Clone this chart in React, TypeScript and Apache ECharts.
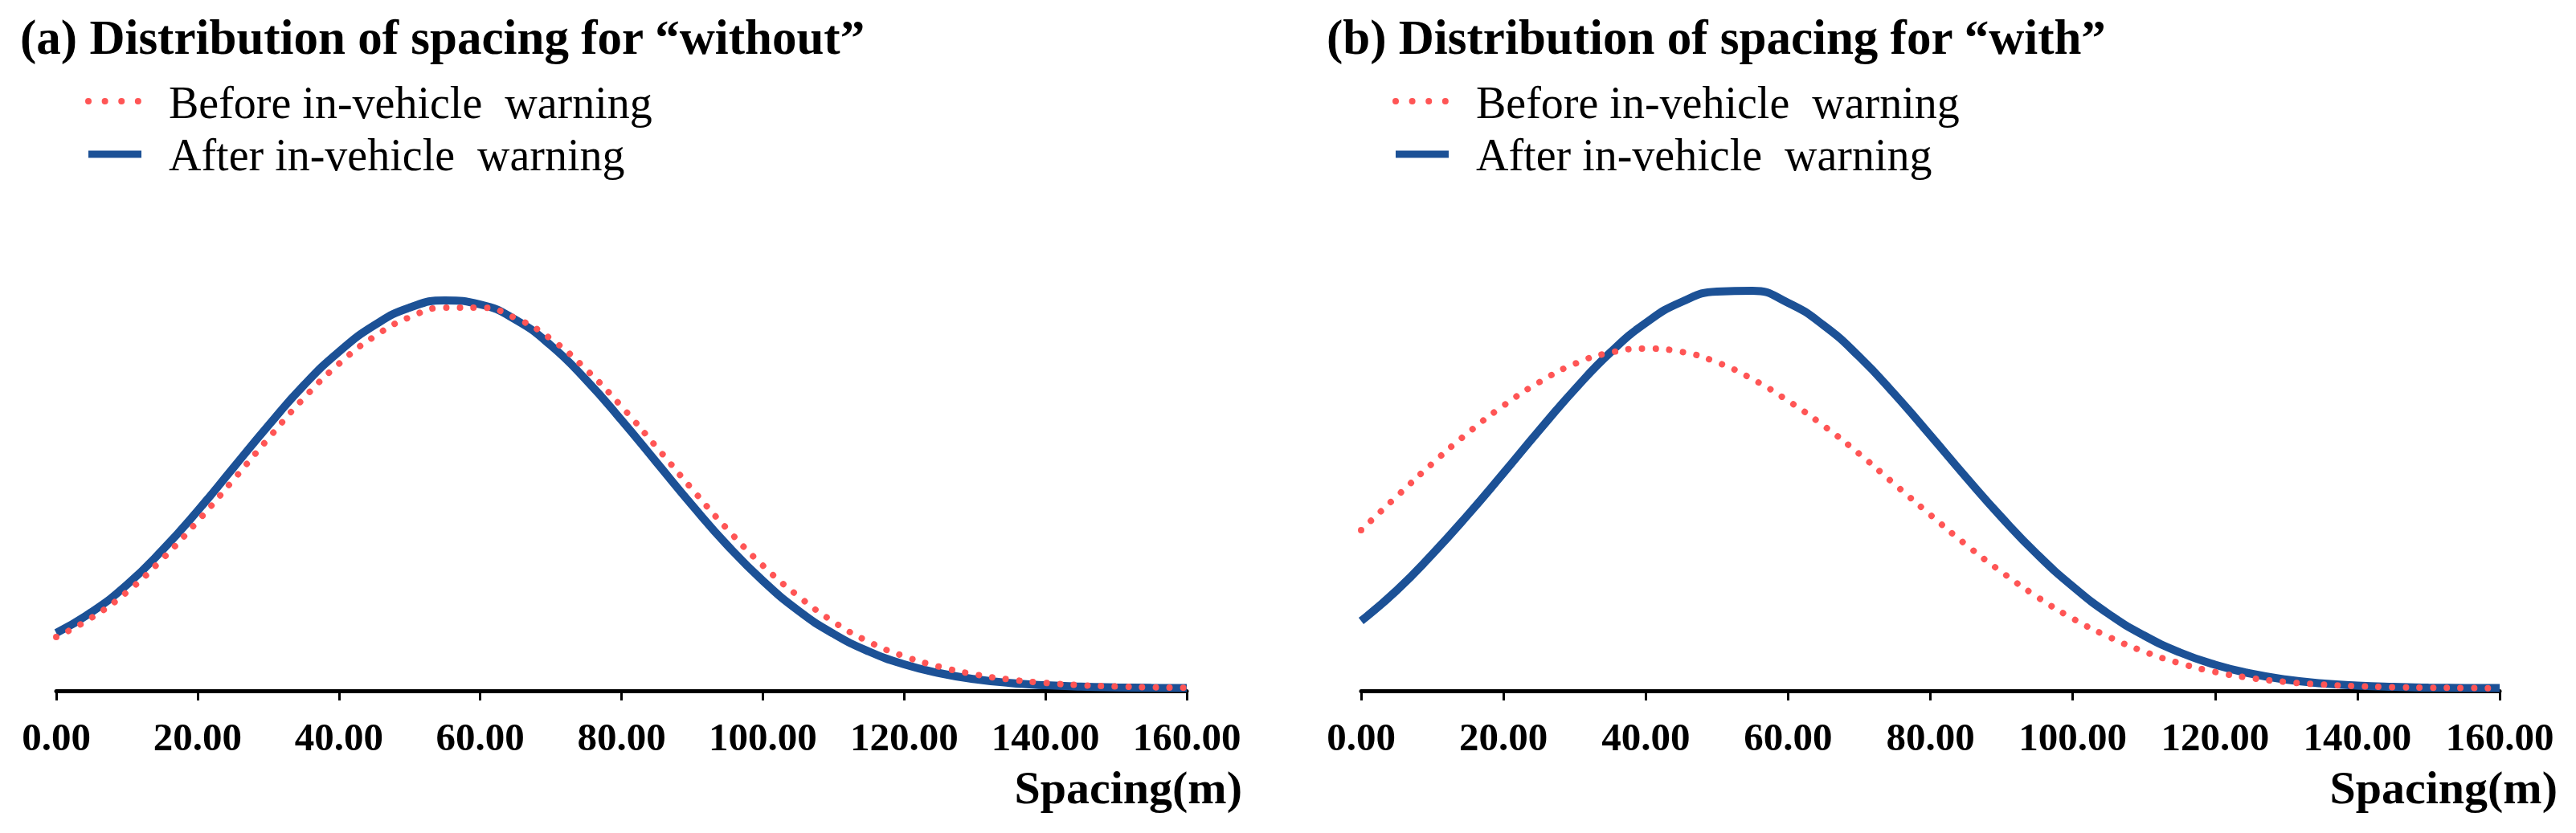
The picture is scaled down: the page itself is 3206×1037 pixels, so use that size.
import React, { useEffect, useRef } from "react";
import * as echarts from "echarts";

// Spacing (m) sample positions and x-axis tick values
const spacing = [0, 5, 10, 15, 20, 25, 30, 35, 40, 45, 50, 55, 60, 65, 70, 75, 80, 85, 90, 95, 100, 105, 110, 115, 120, 125, 130, 135, 140, 145, 150, 155, 160];
const tickValues = [0, 20, 40, 60, 80, 100, 120, 140, 160];

// Relative frequency (arbitrary units)
// (a) "without"
const withoutBefore = [64, 88, 120, 161, 208, 259, 311, 361, 404, 438, 462, 474, 474, 461, 435, 397, 351, 300, 248, 198, 153, 115, 83, 58, 40, 27, 17.5, 11, 6.8, 4, 2.4, 1.4, 0.8];
const withoutAfter = [69, 95, 129, 172, 221, 274, 327, 377, 419, 452, 474, 483, 478, 459, 427, 384, 334, 281, 228, 178, 134, 97, 68, 46, 30, 19, 11.5, 6.8, 3.9, 2.2, 1.3, 0.8, 0.5];
// (b) "with"
const withBefore = [197, 239, 280, 318, 352, 381, 404, 418, 423, 419, 406, 385, 358, 327, 292, 254, 216, 179, 145, 114, 87, 64.5, 46, 31.5, 20.5, 13, 8, 4.8, 2.8, 1.6, 0.9, 0.5, 0.3];
const withAfter = [84, 122, 167, 216, 268, 321, 372, 418, 455, 481, 494, 495, 480, 452, 413, 366, 315, 263, 213, 167, 127, 93, 66, 45, 29.5, 18.5, 11, 6.3, 3.5, 1.9, 1, 0.6, 0.4];

const titles = ["(a) Distribution of spacing for \u201cwithout\u201d", "(b) Distribution of spacing for \u201cwith\u201d"];
const seriesNames = ["Before in-vehicle warning", "After in-vehicle warning"];
const axisName = "Spacing(m)";

const FONT = "'Liberation Serif', 'Times New Roman', Times, serif";
const BLUE = "#1C5196";
const RED = "#FF5555";

export default function App() {
  const ref = useRef<HTMLDivElement>(null);

  useEffect(() => {
    if (!ref.current) return;
    const chart = echarts.init(ref.current, null, { renderer: "svg" });
    const pairs = (ys: number[]) => spacing.map((x, i) => [x, ys[i]]);
    const legendLabel = (name: string) => name.replace(" warning", "\u00a0 warning");

    const panels = [
      { gridLeft: 70, gridWidth: 1407, titleLeft: 25, legendLeft: 110, nameRight: 1546, before: withoutBefore, after: withoutAfter },
      { gridLeft: 1694, gridWidth: 1417, titleLeft: 1651, legendLeft: 1737, nameRight: 3183, before: withBefore, after: withAfter },
    ];

    const graphics: any[] = [];
    panels.forEach((p) => {
      graphics.push({
        type: "line",
        shape: { x1: p.legendLeft, y1: 126, x2: p.legendLeft + 62, y2: 126 },
        style: { stroke: RED, lineWidth: 8, lineDash: [0.01, 20.6], lineCap: "round" },
      });
      graphics.push({
        type: "line",
        shape: { x1: p.legendLeft, y1: 192, x2: p.legendLeft + 66, y2: 192 },
        style: { stroke: BLUE, lineWidth: 9 },
      });
      graphics.push({
        type: "text",
        x: p.legendLeft + 100,
        y: 128,
        style: { text: legendLabel(seriesNames[0]), font: `56px ${FONT}`, fill: "#000", verticalAlign: "middle", textVerticalAlign: "middle" },
      });
      graphics.push({
        type: "text",
        x: p.legendLeft + 100,
        y: 193,
        style: { text: legendLabel(seriesNames[1]), font: `56px ${FONT}`, fill: "#000", verticalAlign: "middle", textVerticalAlign: "middle" },
      });
      graphics.push({
        type: "text",
        x: p.nameRight,
        y: 980,
        style: {
          text: axisName,
          font: `bold 58px ${FONT}`,
          fill: "#000",
          align: "right",
          verticalAlign: "middle",
          textAlign: "right",
          textVerticalAlign: "middle",
        },
      });
    });

    const option: any = {
      animation: false,
      backgroundColor: "#fff",
      title: panels.map((p, i) => ({
        text: titles[i],
        left: p.titleLeft,
        top: 16,
        padding: 0,
        textStyle: { fontFamily: FONT, fontWeight: "bold", fontSize: 61, color: "#000" },
      })),
      grid: panels.map((p) => ({ left: p.gridLeft, width: p.gridWidth, top: 357, height: 500 })),
      xAxis: panels.map((_, i) => ({
        type: "value",
        gridIndex: i,
        min: 0,
        max: 160,
        interval: 20,
        offset: 3,
        axisLine: { show: true, onZero: false, lineStyle: { color: "#000", width: 5 } },
        axisTick: { show: true, length: 12, lineStyle: { color: "#000", width: 3 } },
        splitLine: { show: false },
        axisLabel: {
          formatter: (v: number) => (tickValues.includes(v) ? v.toFixed(2) : ""),
          fontFamily: FONT,
          fontWeight: "bold",
          fontSize: 49,
          color: "#000",
          margin: 33,
        },
      })),
      yAxis: panels.map((_, i) => ({ type: "value", gridIndex: i, min: 0, max: 500, show: false })),
      series: panels.flatMap((p, i) => [
        {
          type: "line",
          name: seriesNames[1],
          xAxisIndex: i,
          yAxisIndex: i,
          data: pairs(p.after),
          symbol: "none",
          smooth: 0.5,
          z: 2,
          itemStyle: { color: BLUE },
          lineStyle: { color: BLUE, width: 10 },
        },
        {
          type: "line",
          name: seriesNames[0],
          xAxisIndex: i,
          yAxisIndex: i,
          data: pairs(p.before),
          symbol: "none",
          smooth: 0.5,
          z: 3,
          itemStyle: { color: RED },
          lineStyle: { color: RED, width: 8, type: [0.01, 17], cap: "round" },
        },
      ]),
      graphic: graphics,
    };

    chart.setOption(option);
    return () => chart.dispose();
  }, []);

  return (
    <div
      ref={ref}
      style={{ position: "fixed", left: 0, top: 0, width: 3206, height: 1037, background: "#fff" }}
    />
  );
}
